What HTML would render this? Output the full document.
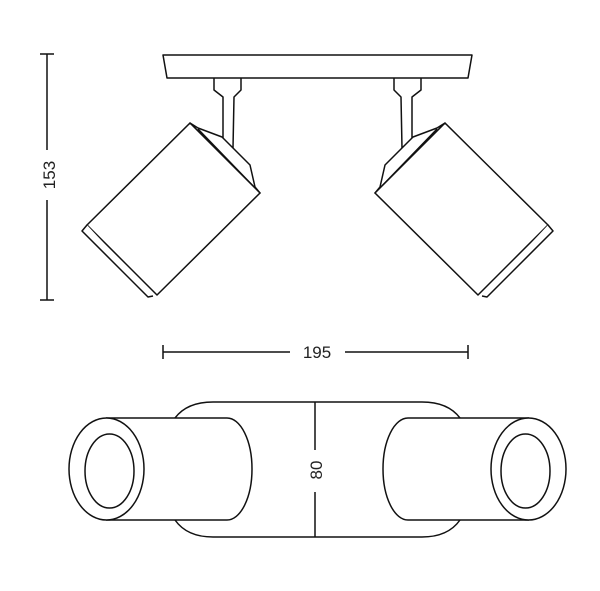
<!DOCTYPE html>
<html><head><style>
html,body{margin:0;padding:0;background:#fff;width:600px;height:591px;overflow:hidden}
svg{display:block}
text{font-family:"Liberation Sans",sans-serif;font-size:17px;fill:#222;stroke:none}
</style></head><body>
<svg width="600" height="591" viewBox="0 0 600 591" fill="none" stroke="#111" stroke-width="1.5" stroke-linejoin="round">
<g id="lampL" fill="#fff">
  <path d="M214,78 L214,90 L223,97 L223,140 L233,148 L234,97 L241,90 L241,78"/>
  <path d="M190,123 L198,128 L222,137 L233,148 L250,165 L255,187 L260,193 Z"/>
  <path d="M198,129 L255,188"/>
  <path d="M190,123 L260,193 L157,295 L87,225 Z"/>
  <path d="M87,225 L82,231 L148,297 L153,296"/>
</g>
<use href="#lampL" transform="translate(635,0) scale(-1,1)"/>
<path d="M163,55 L472,55 L468,78 L167,78 Z" fill="#fff"/>
<path d="M40,54 L54,54 M40,300 L54,300 M47,54 L47,150 M47,200 L47,300"/>
<text transform="translate(55,175) rotate(-90)" text-anchor="middle">153</text>
<path d="M163,345 L163,359 M468,345 L468,359 M163,352 L290,352 M345,352 L468,352"/>
<text x="317" y="358" text-anchor="middle">195</text>
<path d="M175,418 Q187,402 213,402 L422,402 Q448,402 460,418 M175,520 Q187,537 213,537 L422,537 Q448,537 460,520"/>
<g id="cylL">
  <path d="M106,418 L227,418 A25,51 0 0 1 227,520 L106,520" fill="#fff"/>
  <ellipse cx="106.5" cy="469" rx="37.5" ry="51" fill="#fff"/>
  <ellipse cx="109.5" cy="471" rx="24.5" ry="37"/>
</g>
<use href="#cylL" transform="translate(635,0) scale(-1,1)"/>
<path d="M315,402 L315,450 M315,492 L315,537"/>
<text transform="translate(322,470) rotate(-90)" text-anchor="middle">80</text>
</svg>
</body></html>
